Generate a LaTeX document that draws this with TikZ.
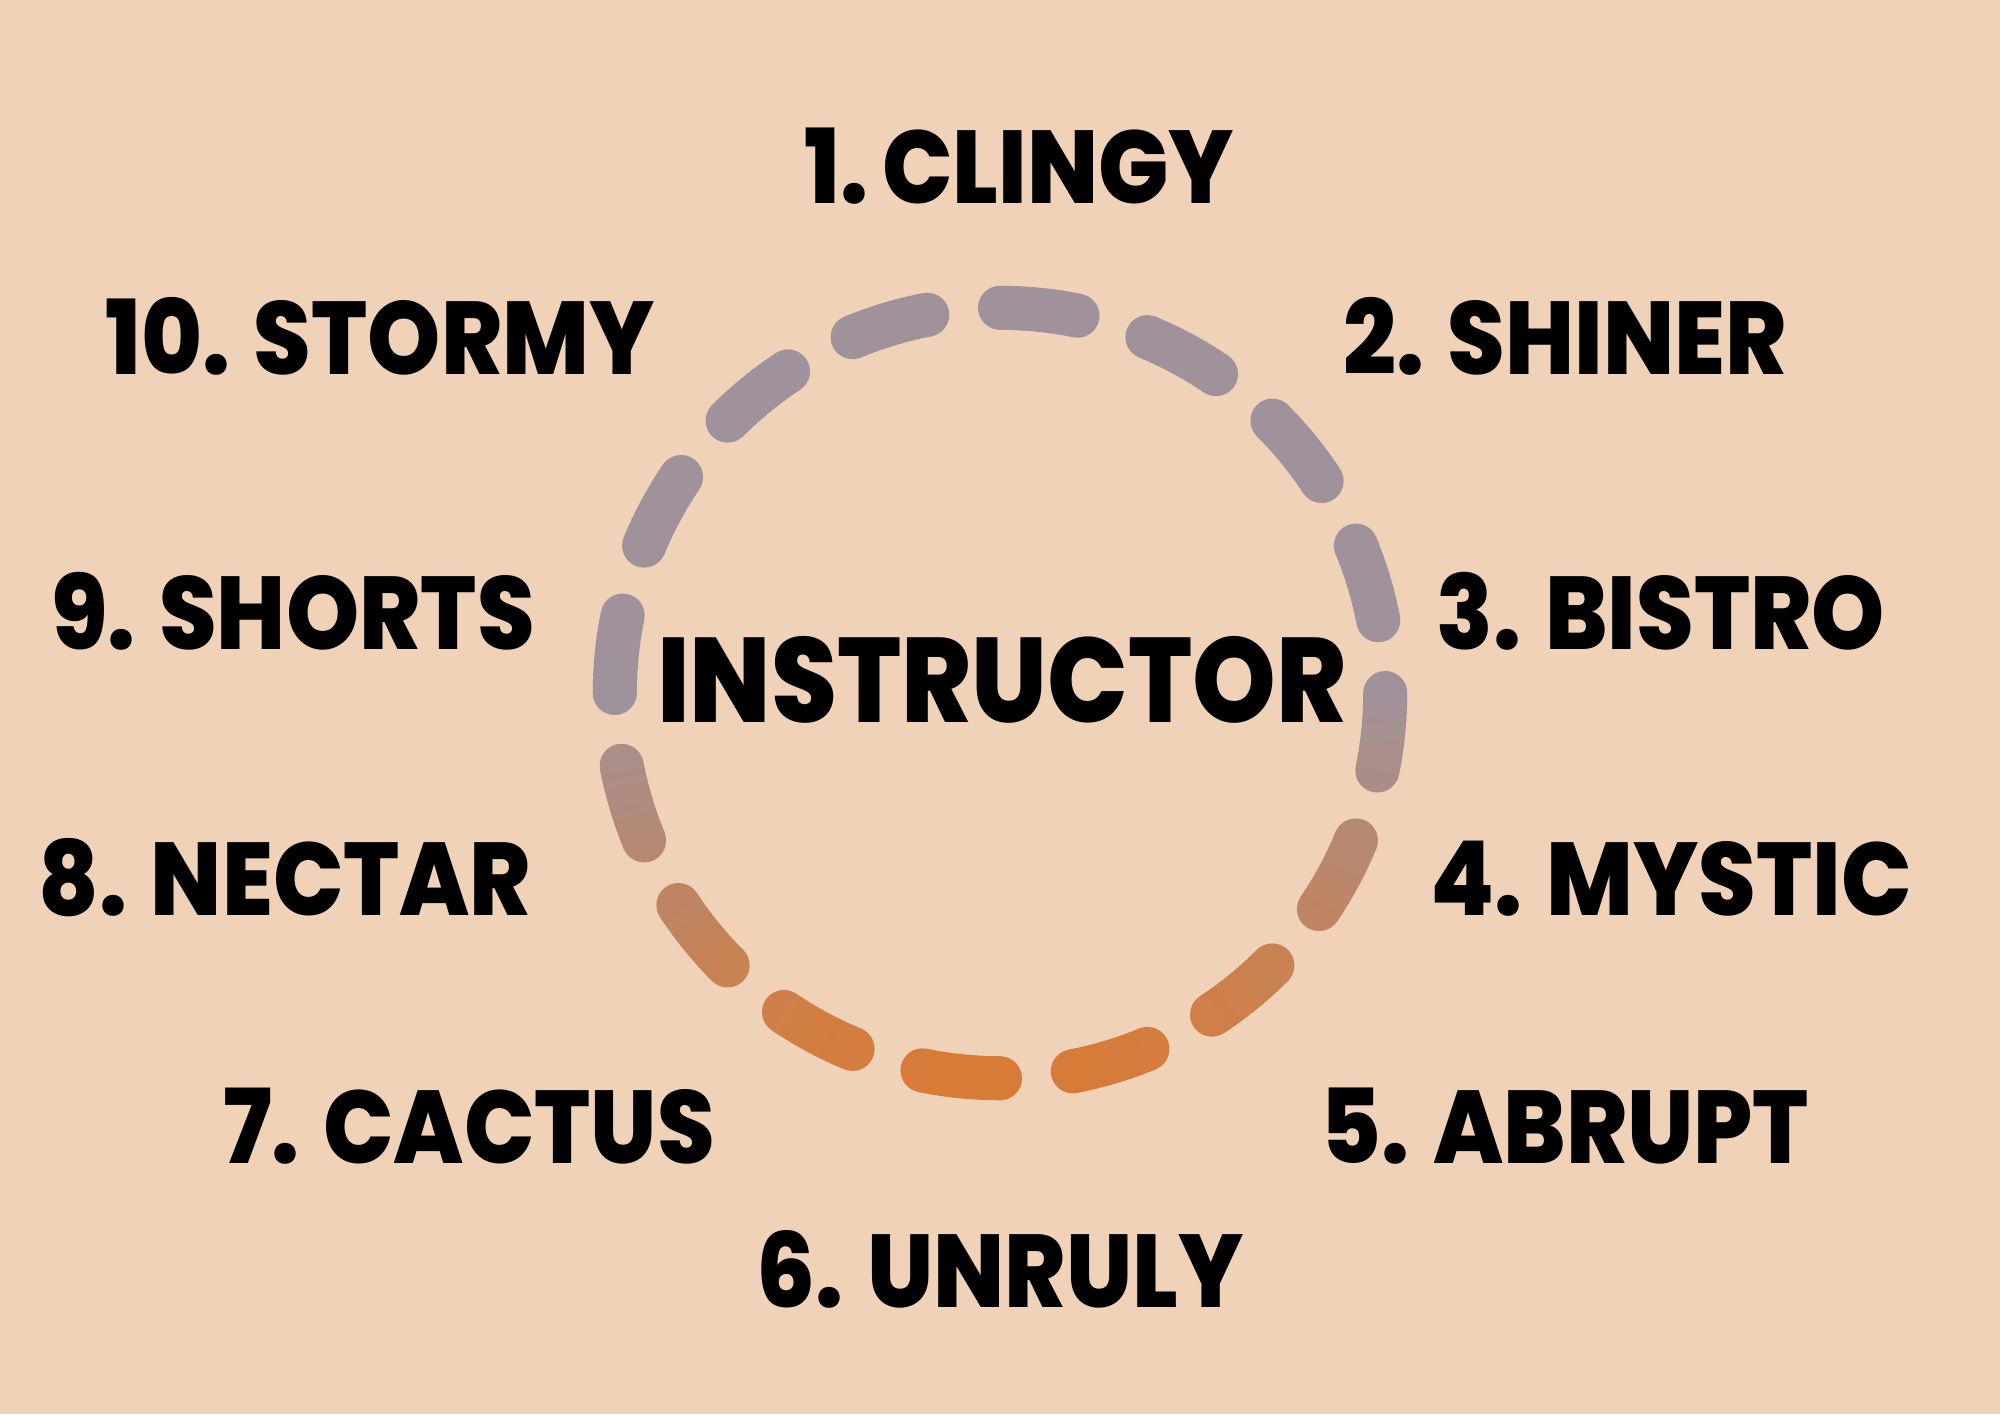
\documentclass[tikz,border=0pt]{standalone}
\usepackage{fontspec}
\setmainfont{Poppins}
\newfontfamily\lblfont{Poppins}[BoldFont={Poppins ExtraBold}, FakeStretch=0.90]
\newfontfamily\ctrfont{Poppins}[BoldFont={Poppins ExtraBold}, FakeStretch=0.885]
\definecolor{bgpeach}{HTML}{F0D2B8}
\definecolor{ringgray}{HTML}{A0929B}
\definecolor{ringorange}{HTML}{D87B36}
\tikzset{
  wordlabel/.style={anchor=base, inner sep=0pt, font=\lblfont\bfseries\fontsize{29.4}{30}\selectfont, text=black},
  centerlabel/.style={anchor=base, inner sep=0pt, font=\ctrfont\bfseries\fontsize{34.2}{35}\selectfont, text=black},
  ringpiece/.style={line width=12.52pt, line cap=butt}
}
\begin{document}
\begin{tikzpicture}[x=0.01cm, y=-0.01cm]
  \fill[bgpeach] (0,0) rectangle (2000,1414);
  \useasboundingbox (0,0) rectangle (2000,1414);
  \coordinate (ringc) at (1000,693);
  % dashed ring, 16 dashes, coloured from grey (upper half) to orange (bottom)
  \foreach \k in {0,...,15}{
    \pgfmathsetmacro\dstart{22.5*\k-11.61}
    \pgfmathsetmacro\dend{22.5*\k}
    \pgfmathsetmacro\mixs{max(0,-sin(\dstart))*100}
    \pgfmathsetmacro\mixe{max(0,-sin(\dend))*100}
    \fill[ringorange!\mixs!ringgray] ([shift={(\dstart:3.85cm)}]ringc) circle [radius=6.26pt];
    \fill[ringorange!\mixe!ringgray] ([shift={(\dend:3.85cm)}]ringc) circle [radius=6.26pt];
    \foreach \j in {0,...,11}{
      \pgfmathsetmacro\sa{\dstart+\j*0.9675}
      \pgfmathsetmacro\sb{\sa+0.9675+0.2}
      \pgfmathsetmacro\sm{\sa+0.48}
      \pgfmathsetmacro\mixm{max(0,-sin(\sm))*100}
      \draw[ringpiece, ringorange!\mixm!ringgray] ([shift={(\sa:3.85cm)}]ringc) arc [start angle=\sa, end angle=\sb, radius=3.85cm];
    }
  }
  \node[centerlabel] (center) at (1002,722) {INSTRUCTOR};
  \node[wordlabel] (l1) at (1019,203) {1.\kern4pt CLINGY};
  \node[wordlabel] (l2) at (1565,374) {2. SHINER};
  \node[wordlabel] (l3) at (1661,649) {3. BISTRO};
  \node[wordlabel] (l4) at (1671,915) {4. MYSTIC};
  \node[wordlabel] (l5) at (1565,1163) {5. ABRUPT};
  \node[wordlabel] (l6) at (1000,1307) {6. UNRULY};
  \node[wordlabel] (l7) at (469,1163) {7. CACTUS};
  \node[wordlabel] (l8) at (285,915) {8. NECTAR};
  \node[wordlabel] (l9) at (293,649) {9. SHORTS};
  \node[wordlabel] (l10) at (380,374) {10. STORMY};
\end{tikzpicture}
\end{document}
